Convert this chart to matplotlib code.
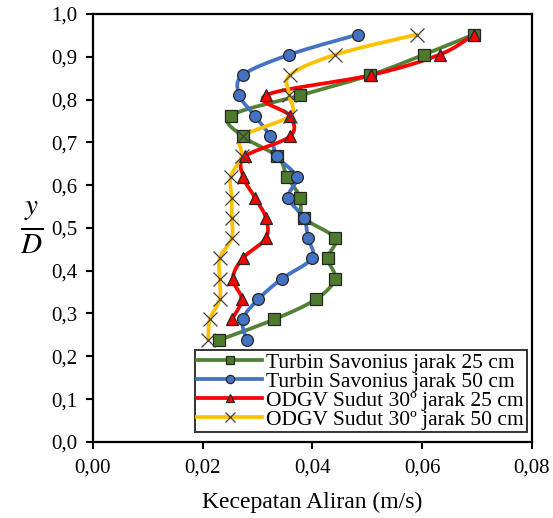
import matplotlib
matplotlib.use('Agg')
import matplotlib.pyplot as plt
import numpy as np

#%% Data
y_levels = [0.238, 0.286, 0.333, 0.381, 0.429, 0.476, 0.524, 0.571,
            0.619, 0.667, 0.714, 0.762, 0.810, 0.857, 0.905, 0.952]

savonius_25 = [0.0230, 0.0330, 0.0406, 0.0441, 0.0428, 0.0441, 0.0384, 0.0378,
               0.0354, 0.0336, 0.0273, 0.0251, 0.0378, 0.0505, 0.0603, 0.0694]
savonius_50 = [0.0280, 0.0273, 0.0301, 0.0344, 0.0399, 0.0392, 0.0384, 0.0356,
               0.0371, 0.0336, 0.0323, 0.0295, 0.0267, 0.0273, 0.0358, 0.0483]
odgv_25 = [0.0253, 0.0271, 0.0255, 0.0273, 0.0315, 0.0315, 0.0295,
           0.0274, 0.0277, 0.0359, 0.0359, 0.0315, 0.0506, 0.0632, 0.0694]
odgv_50 = [0.0210, 0.0213, 0.0231, 0.0231, 0.0231, 0.0253, 0.0253, 0.0253,
           0.0251, 0.0271, 0.0273, 0.0359, 0.0358, 0.0359, 0.0442, 0.0590]

labels = ['Turbin Savonius jarak 25 cm', 'Turbin Savonius jarak 50 cm',
          'ODGV Sudut 30º jarak 25 cm', 'ODGV Sudut 30º jarak 50 cm']

x_ticks = [0.00, 0.02, 0.04, 0.06, 0.08]
y_ticks = [0.0, 0.1, 0.2, 0.3, 0.4, 0.5, 0.6, 0.7, 0.8, 0.9, 1.0]


#%% Excel-like smoothing of the drawn line (Catmull-Rom through the points)
def smooth(xs, ys, n=20):
    p = np.column_stack([xs, ys])
    p = np.vstack([p[0], p, p[-1]])
    out = []
    t = np.linspace(0, 1, n, endpoint=False)[:, None]
    for i in range(1, len(p) - 2):
        p0, p1, p2, p3 = p[i - 1], p[i], p[i + 1], p[i + 2]
        seg = 0.5 * ((2 * p1) + (-p0 + p2) * t +
                     (2 * p0 - 5 * p1 + 4 * p2 - p3) * t ** 2 +
                     (-p0 + 3 * p1 - 3 * p2 + p3) * t ** 3)
        out.append(seg)
    out.append(p[-2][None, :])
    out = np.vstack(out)
    return out[:, 0], out[:, 1]


plt.rcParams['font.family'] = ['Liberation Serif', 'DejaVu Serif']
plt.rcParams['mathtext.fontset'] = 'stix'

fig = plt.figure(figsize=(5.53, 5.18), dpi=100)
ax = fig.add_axes([0.168, 0.147, 0.794, 0.826])

series = [
    (savonius_25, y_levels, '#538135', 's', '#4E7A2C', 8, labels[0]),
    (savonius_50, y_levels, '#4472C4', 'o', '#4472C4', 8.5, labels[1]),
    (odgv_25, y_levels[1:], '#FF0000', '^', '#FF0000', 9, labels[2]),
    (odgv_50, y_levels, '#FFC000', 'x', '#404040', 10, labels[3]),
]

handles = []
for xs, ys, col, mk, mfc, ms, lab in series:
    sx, sy = smooth(xs, ys)
    edge = '#262626' if mk != 'x' else '#404040'
    ax.plot(sx, sy, color=col, lw=2.7, solid_capstyle='round', zorder=2)
    ax.plot(xs, ys, ls='none', marker=mk, ms=ms, mfc=mfc, mec=edge,
            mew=0.9, zorder=3)
    h, = ax.plot([], [], color=col, lw=2.7, marker=mk, ms=ms * 0.7, mfc=mfc,
                 mec=edge, mew=0.9, label=lab)
    handles.append(h)

ax.set_xlim(0, 0.08)
ax.set_ylim(0, 1.0)
ax.set_xticks(x_ticks)
ax.set_xticklabels([('%.2f' % v).replace('.', ',') for v in x_ticks])
ax.set_yticks(y_ticks)
ax.set_yticklabels([('%.1f' % v).replace('.', ',') for v in y_ticks])
ax.tick_params(direction='out', length=5, width=1.5, labelsize=15)
ax.tick_params(axis='x', pad=7)
ax.tick_params(axis='y', pad=6)
for s in ax.spines.values():
    s.set_linewidth(1.6)

ax.set_xlabel('Kecepatan Aliran (m/s)', fontsize=17, labelpad=10)
ax.set_ylabel(r'$\frac{y}{D}$', fontsize=30, rotation=0, labelpad=14, va='center')

leg = ax.legend(handles=handles, loc='lower right', bbox_to_anchor=(0.988, 0.022),
                fontsize=15.5, frameon=True, fancybox=False, edgecolor='black',
                handlelength=3.0, handletextpad=0.2, labelspacing=-0.05,
                borderpad=0.12, borderaxespad=0)
leg.get_frame().set_linewidth(1.4)

fig.savefig('out.png', dpi=100)
